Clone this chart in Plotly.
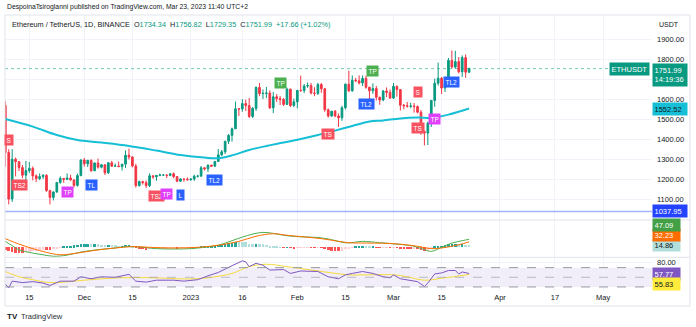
import pandas as pd
import plotly.graph_objects as go
from plotly.subplots import make_subplots

# ---------------- data ----------------
dates = pd.date_range("2022-11-08", "2023-03-23", freq="D")

opens = [1568, 1333, 1100, 1299, 1287, 1257, 1219, 1242, 1253, 1216, 1202, 1212, 1218, 1142, 1108, 1135, 1183, 1203, 1198, 1205, 1195, 1168, 1217,
         1295, 1276, 1293, 1241, 1280, 1259, 1271, 1231, 1281, 1264, 1265, 1262, 1274, 1319, 1310, 1265, 1167, 1187, 1182, 1167, 1216, 1211, 1218, 1220, 1220, 1218, 1226, 1212, 1189, 1200, 1199,
         1196, 1200, 1214, 1214, 1256, 1251, 1269, 1264, 1288, 1321, 1336, 1389, 1418, 1451, 1551, 1550, 1577, 1567, 1513, 1553, 1658, 1627, 1628, 1630, 1556, 1611, 1602, 1598, 1573, 1649, 1567,
         1586, 1643, 1642, 1665, 1667, 1630, 1628, 1672, 1651, 1546, 1515, 1539, 1515, 1506, 1556, 1674, 1641, 1694, 1691, 1680, 1703, 1659, 1641, 1652, 1609, 1595, 1640, 1633,
         1605, 1663, 1647, 1569, 1566, 1564, 1565, 1562, 1534, 1437, 1430, 1480, 1593, 1679, 1704, 1655, 1677, 1793, 1760, 1787, 1736, 1807, 1734.34]
highs = [1590, 1349, 1349, 1307, 1288, 1270, 1290, 1285, 1263, 1223, 1228, 1224, 1224, 1146, 1138, 1183, 1213, 1205, 1228, 1221, 1199, 1227, 1299,
         1305, 1296, 1298, 1283, 1302, 1275, 1272, 1284, 1291, 1278, 1287, 1275, 1343, 1352, 1313, 1276, 1192, 1191, 1193, 1228, 1217, 1220, 1227, 1223, 1222, 1229, 1233, 1214, 1204, 1201, 1208,
         1203, 1222, 1221, 1265, 1259, 1273, 1271, 1290, 1350, 1345, 1389, 1425, 1457, 1587, 1553, 1599, 1596, 1605, 1560, 1663, 1680, 1648, 1660, 1643, 1635, 1625, 1615, 1605, 1657, 1652, 1602,
         1645, 1717, 1675, 1682, 1680, 1659, 1681, 1680, 1655, 1553, 1541, 1545, 1528, 1566, 1678, 1742, 1718, 1706, 1718, 1718, 1717, 1661, 1678, 1665, 1611, 1645, 1658, 1648,
         1680, 1668, 1648, 1575, 1585, 1581, 1580, 1568, 1545, 1443, 1486, 1595, 1702, 1782, 1710, 1688, 1805, 1843, 1841, 1810, 1818, 1823, 1756.82]
lows = [1261, 1073, 1085, 1213, 1240, 1204, 1176, 1230, 1193, 1185, 1195, 1200, 1136, 1073, 1093, 1131, 1176, 1181, 1196, 1192, 1157, 1162, 1214,
        1262, 1260, 1236, 1240, 1251, 1253, 1220, 1225, 1261, 1263, 1260, 1242, 1255, 1297, 1258, 1157, 1162, 1172, 1155, 1160, 1201, 1191, 1214, 1216, 1205, 1214, 1204, 1184, 1186, 1186, 1193,
        1192, 1191, 1207, 1213, 1242, 1235, 1261, 1262, 1286, 1314, 1325, 1375, 1387, 1450, 1515, 1536, 1540, 1505, 1505, 1540, 1614, 1600, 1605, 1550, 1530, 1585, 1570, 1565, 1570, 1560, 1561,
        1553, 1636, 1630, 1656, 1623, 1614, 1620, 1631, 1536, 1507, 1511, 1509, 1461, 1491, 1548, 1635, 1636, 1685, 1673, 1665, 1651, 1593, 1626, 1593, 1571, 1589, 1610, 1600,
        1600, 1612, 1542, 1549, 1557, 1554, 1532, 1528, 1421, 1368, 1370, 1460, 1561, 1667, 1625, 1635, 1677, 1753, 1752, 1728, 1710, 1706, 1729.35]
closes = [1333, 1100, 1299, 1287, 1257, 1219, 1242, 1253, 1216, 1202, 1212, 1218, 1142, 1108, 1135, 1183, 1203, 1198, 1205, 1195, 1168, 1217, 1295,
          1276, 1293, 1241, 1280, 1259, 1271, 1231, 1281, 1264, 1265, 1262, 1274, 1319, 1310, 1265, 1167, 1187, 1182, 1167, 1216, 1211, 1218, 1220, 1220, 1218, 1226, 1212, 1189, 1200, 1199, 1196,
          1200, 1214, 1214, 1256, 1251, 1269, 1264, 1288, 1321, 1336, 1389, 1418, 1451, 1551, 1550, 1577, 1567, 1513, 1553, 1658, 1627, 1628, 1630, 1556, 1611, 1602, 1598, 1573, 1649, 1567, 1586,
          1643, 1642, 1665, 1667, 1630, 1628, 1672, 1651, 1546, 1515, 1539, 1515, 1506, 1556, 1674, 1641, 1694, 1691, 1680, 1703, 1659, 1641, 1652, 1609, 1595, 1640, 1633, 1605,
          1663, 1647, 1569, 1566, 1564, 1565, 1562, 1534, 1437, 1430, 1480, 1593, 1679, 1704, 1655, 1677, 1793, 1760, 1787, 1736, 1807, 1734, 1751.99]

# moving average (cyan) read at sample dates
ma_dates = ["2022-11-08", "2022-11-16", "2022-11-23", "2022-11-29", "2022-12-06", "2022-12-14", "2022-12-22", "2022-12-29",
            "2023-01-05", "2023-01-09", "2023-01-13", "2023-01-18", "2023-01-23", "2023-01-28", "2023-02-02", "2023-02-07",
            "2023-02-12", "2023-02-17", "2023-02-22", "2023-02-26", "2023-03-03", "2023-03-08", "2023-03-12", "2023-03-17", "2023-03-23"]
ma_vals = [1500, 1462, 1420, 1395, 1382, 1365, 1342, 1320, 1307, 1304, 1318, 1345, 1365, 1382, 1400, 1420,
           1442, 1465, 1487, 1493, 1503, 1507, 1506, 1522, 1552.52]

# MACD (green), signal (orange) read at sample dates
macd_dates = ["2022-11-08", "2022-11-10", "2022-11-12", "2022-11-16", "2022-11-19", "2022-11-22", "2022-11-26", "2022-11-30",
              "2022-12-05", "2022-12-10", "2022-12-14", "2022-12-18", "2022-12-22", "2022-12-27", "2023-01-01", "2023-01-05",
              "2023-01-09", "2023-01-13", "2023-01-16", "2023-01-19", "2023-01-22", "2023-01-25", "2023-01-29", "2023-02-02",
              "2023-02-07", "2023-02-11", "2023-02-14", "2023-02-16", "2023-02-20", "2023-02-25", "2023-03-02", "2023-03-07",
              "2023-03-10", "2023-03-12", "2023-03-15", "2023-03-18", "2023-03-21", "2023-03-23"]
macd_vals = [35, 10, -15, -34, -44, -53, -46, -28, -14, -4, 5, 0, -8, -10, -8, 0,
             12, 39, 60, 78, 88, 82, 68, 62, 58, 45, 30, 26, 35, 27, 19, 6, -14, -24, 0, 25, 39, 47.09]
sig_dates = ["2022-11-08", "2022-11-12", "2022-11-16", "2022-11-20", "2022-11-24", "2022-11-29", "2022-12-04", "2022-12-10",
             "2022-12-15", "2022-12-20", "2022-12-27", "2023-01-03", "2023-01-09", "2023-01-15", "2023-01-20", "2023-01-25",
             "2023-01-29", "2023-02-03", "2023-02-08", "2023-02-13", "2023-02-16", "2023-02-21", "2023-02-26", "2023-03-03",
             "2023-03-08", "2023-03-12", "2023-03-15", "2023-03-20", "2023-03-23"]
sig_vals = [51, 19, -8, -30, -44, -34, -18, -4, 4, 0, -4, 0, 12, 35, 65, 80, 71, 61, 51, 35, 27, 25, 24, 18, 6, -8, -4, 15, 32.23]

# MACD histogram, one value per day
hist_vals = [-14, -24, -28, -32, -34, -35, -30, -26, -22, -19, -16, -13, -14, -16, -10, -6, -2, 2, 5, 9, 11, 14, 18,
             19, 20, 19, 19, 18, 16, 14, 14, 13, 12, 10, 10, 13, 14, 10, -2, -8, -11, -13, -11, -9, -8, -7, -6, -5, -4, -4, -5, -4, -3, -3,
             -2, -1, 1, 4, 5, 7, 7, 9, 13, 15, 19, 23, 27, 34, 33, 32, 29, 22, 19, 22, 20, 17, 14, 8, 6, 3, 1, -2, 1, -4, -5,
             -3, -2, -1, -1, -3, -4, -2, -4, -12, -18, -20, -22, -24, -20, -10, -6, -1, 2, 3, 5, 4, 2, 2, -1, -3, -2, -2, -3,
             -1, -2, -6, -8, -9, -10, -10, -12, -18, -22, -20, -10, 2, 9, 10, 11, 17, 19, 21, 19, 20, 16, 14.86]

# RSI (purple) and its MA (yellow)
rsi_dates = ["2022-11-08", "2022-11-09", "2022-11-10", "2022-11-13", "2022-11-16", "2022-11-19", "2022-11-21", "2022-11-24",
             "2022-11-28", "2022-11-30", "2022-12-03", "2022-12-06", "2022-12-10", "2022-12-14", "2022-12-16", "2022-12-19",
             "2022-12-22", "2022-12-27", "2022-12-30", "2023-01-03", "2023-01-06", "2023-01-09", "2023-01-13", "2023-01-16",
             "2023-01-17", "2023-01-18", "2023-01-20", "2023-01-22", "2023-01-24", "2023-01-28", "2023-01-30", "2023-02-02",
             "2023-02-07", "2023-02-10", "2023-02-13", "2023-02-15", "2023-02-17", "2023-02-20", "2023-02-23", "2023-02-26",
             "2023-02-28", "2023-03-01", "2023-03-03", "2023-03-05", "2023-03-08", "2023-03-10", "2023-03-11", "2023-03-13",
             "2023-03-15", "2023-03-17", "2023-03-19", "2023-03-20", "2023-03-21", "2023-03-23"]
rsi_vals = [36, 28, 42, 39, 41, 38, 33, 42, 42, 51, 47, 51, 50, 56, 42, 40, 44, 44, 42, 45, 53, 60, 74, 84,
            82, 72, 79, 75, 65, 66, 58, 63, 62, 51, 47, 55, 58, 62, 58, 51, 49, 55, 47, 45, 41, 31, 38, 57,
            59, 64, 64, 57, 61, 57.77]
rsima_dates = ["2022-11-08", "2022-11-12", "2022-11-16", "2022-11-21", "2022-12-01", "2022-12-11", "2022-12-21", "2022-12-31",
               "2023-01-06", "2023-01-13", "2023-01-18", "2023-01-23", "2023-01-29", "2023-02-07", "2023-02-16", "2023-02-20",
               "2023-03-01", "2023-03-05", "2023-03-10", "2023-03-15", "2023-03-23"]
rsima_vals = [62, 51, 45, 39, 44, 49, 49, 46.5, 49, 58, 72, 77, 72, 63, 55, 55, 55, 51, 44, 48, 55.83]

# strategy signal labels
sig_text = ["S", "TS2", "TP", "TL", "TS2", "TP", "L", "TL2", "TP", "TS", "TL2", "TP", "S", "TS", "TP", "TL2"]
sig_x = ["2022-11-09", "2022-11-12", "2022-11-26", "2022-12-03", "2022-12-22", "2022-12-25", "2022-12-29", "2023-01-08",
         "2023-01-27", "2023-02-10", "2023-02-21", "2023-02-23", "2023-03-08", "2023-03-08", "2023-03-13", "2023-03-18"]
sig_y = [1395, 1170, 1135, 1170, 1115, 1125, 1120, 1195, 1680, 1425, 1575, 1740, 1633, 1455, 1500, 1685]
sig_kind = ["red", "red", "mag", "blue", "red", "mag", "blue", "blue", "green", "red", "blue", "green", "red", "red", "mag", "blue"]

tick_dates = ["2022-11-15", "2022-12-01", "2022-12-15", "2023-01-01", "2023-01-16", "2023-02-01", "2023-02-15",
              "2023-03-01", "2023-03-15", "2023-04-01", "2023-04-17", "2023-05-01"]
tick_text = ["15", "Dec", "15", "2023", "16", "Feb", "15", "Mar", "15", "Apr", "17", "May"]
price_ticks = [1100, 1200, 1300, 1400, 1500, 1600, 1700, 1800, 1900]

last_price = 1751.99
ma_last = 1552.52
hline_price = 1037.95

# ---------------- layout constants ----------------
W, H = 696, 327
ML, MR, MT, MB = 5, 44, 15, 36
PW, PH = W - ML - MR, H - MT - MB
def px_x(x): return (x - ML) / PW
def px_y(y): return (H - MB - y) / PH

UP, DN = "#089981", "#f23645"
GRID = "#f0f3fa"
TXT = "#131722"
FONT = "Liberation Sans"
sig_colors = {"red": "#f7525f", "mag": "#e040fb", "blue": "#2962ff", "green": "#4caf50"}

fig = make_subplots(rows=3, cols=1, shared_xaxes=True, vertical_spacing=0,
                    row_heights=[205, 37.3, 33.7])

fig.add_trace(go.Candlestick(
    x=dates, open=opens, high=highs, low=lows, close=closes,
    increasing=dict(line=dict(color=UP, width=1), fillcolor=UP),
    decreasing=dict(line=dict(color=DN, width=1), fillcolor=DN),
    whiskerwidth=0, showlegend=False), row=1, col=1)
fig.add_trace(go.Scatter(x=pd.to_datetime(ma_dates), y=ma_vals, mode="lines",
                         line=dict(color="#16bfd6", width=2, shape="spline"), showlegend=False), row=1, col=1)

# histogram colours
hcol = []
prev = 0
for h in hist_vals:
    if h >= 0:
        hcol.append("#26a69a" if h >= prev else "#b2dfdb")
    else:
        hcol.append("#ff5252" if h < prev else "#ffcdd2")
    prev = h
fig.add_trace(go.Bar(x=dates, y=hist_vals, marker=dict(color=hcol, line=dict(width=0)),
                     width=86400000 * 0.75, showlegend=False), row=2, col=1)
fig.add_trace(go.Scatter(x=pd.to_datetime(macd_dates), y=macd_vals, mode="lines",
                         line=dict(color="#4caf50", width=1, shape="spline"), showlegend=False), row=2, col=1)
fig.add_trace(go.Scatter(x=pd.to_datetime(sig_dates), y=sig_vals, mode="lines",
                         line=dict(color="#ff6d00", width=1, shape="spline"), showlegend=False), row=2, col=1)

fig.add_trace(go.Scatter(x=pd.to_datetime(rsima_dates), y=rsima_vals, mode="lines",
                         line=dict(color="#f5d93a", width=1, shape="spline"), showlegend=False), row=3, col=1)
fig.add_trace(go.Scatter(x=pd.to_datetime(rsi_dates), y=rsi_vals, mode="lines",
                         line=dict(color="#7e57c2", width=1), showlegend=False), row=3, col=1)

xr = ["2022-11-07 22:00", "2023-05-15 06:00"]
fig.update_xaxes(range=xr, tickvals=tick_dates, ticktext=tick_text, showgrid=True, gridcolor=GRID,
                 gridwidth=1, zeroline=False, showline=False, ticks="", rangeslider_visible=False,
                 tickfont=dict(size=7.5, color=TXT, family=FONT))
fig.update_xaxes(showticklabels=False, row=1, col=1)
fig.update_xaxes(showticklabels=False, row=2, col=1)
fig.update_xaxes(showticklabels=True, row=3, col=1)

fig.update_yaxes(range=[995, 2020], side="right", tickvals=price_ticks,
                 ticktext=[f"{v:.2f}" if v != 1700 else "" for v in price_ticks],
                 showgrid=True, gridcolor=GRID, zeroline=False, ticks="", ticklabelstandoff=4,
                 tickfont=dict(size=7.5, color=TXT, family=FONT), row=1, col=1)
fig.update_yaxes(range=[-59, 161], showticklabels=False, showgrid=False, zeroline=False, row=2, col=1)
fig.update_yaxes(range=[21.6, 91.4], side="right", tickvals=[80], ticktext=["80.00"], showgrid=True,
                 gridcolor=GRID, zeroline=False, ticks="", ticklabelstandoff=4,
                 tickfont=dict(size=7.5, color=TXT, family=FONT), row=3, col=1)

shapes = []
# RSI band and levels
shapes.append(dict(type="rect", xref="paper", x0=0, x1=1, yref="y3", y0=30, y1=70,
                   fillcolor="rgba(126,87,194,0.1)", line=dict(width=0), layer="below"))
for lvl, c in [(70, "#9598a1"), (50, "rgba(149,152,161,0.6)"), (30, "#9598a1")]:
    shapes.append(dict(type="line", xref="paper", x0=0, x1=1, yref="y3", y0=lvl, y1=lvl,
                       line=dict(color=c, width=1, dash="dash")))
# price lines
shapes.append(dict(type="line", xref="paper", x0=0, x1=px_x(617), yref="y", y0=last_price, y1=last_price,
                   line=dict(color="rgba(8,153,129,0.55)", width=1, dash="dot")))
shapes.append(dict(type="line", xref="paper", x0=0, x1=1, yref="y", y0=hline_price, y1=hline_price,
                   line=dict(color="rgba(60,90,255,0.45)", width=1.5)))
# frame and pane separators
shapes.append(dict(type="rect", xref="paper", yref="paper", x0=0, x1=px_x(690), y0=px_y(306), y1=1,
                   line=dict(color="#e0e3eb", width=1)))
for yy in (220, 257.3):
    shapes.append(dict(type="line", xref="paper", yref="paper", x0=0, x1=px_x(690), y0=px_y(yy), y1=px_y(yy),
                       line=dict(color="#e0e3eb", width=1)))

ann = []
def tag(text, y, yref, bg, fc="white", yshift=0, width=None, xanchor="left", x=1.0, xshift=0, yanchor="middle"):
    d = dict(text=text, x=x, xref="paper", y=y, yref=yref, xanchor=xanchor, yanchor=yanchor,
             showarrow=False, bgcolor=bg, borderpad=1.5, yshift=yshift, xshift=xshift, align="left",
             font=dict(size=7.5, color=fc, family=FONT))
    if width:
        d["width"] = width
    return d

ann.append(tag(f"{last_price:.2f}<br>14:19:36", last_price, "y", UP, yshift=6, width=31, yanchor="top"))
ann.append(tag("ETHUSDT", last_price, "y", UP, xanchor="right", xshift=-2))
ann.append(tag(f"{ma_last:.2f}", ma_last, "y", "#16bfd6", fc=TXT, width=31))
ann.append(tag(f"{hline_price:.2f}", hline_price, "y", "#2443ff", width=31))
ann.append(tag(f"{hist_vals[-1]:.2f}", hist_vals[-1], "y2", "#b2dfdb", fc=TXT, width=24))
ann.append(tag(f"{sig_vals[-1]:.2f}", hist_vals[-1], "y2", "#ff6d00", yshift=9.7, width=24))
ann.append(tag(f"{macd_vals[-1]:.2f}", hist_vals[-1], "y2", "#43a047", yshift=19.4, width=24))
ann.append(tag(f"{rsi_vals[-1]:.2f}", rsi_vals[-1], "y3", "#7e57c2", width=24))
ann.append(tag(f"{rsima_vals[-1]:.2f}", rsi_vals[-1], "y3", "#ffeb3b", fc=TXT, yshift=-10, width=24))

for t, xd, yv, k in zip(sig_text, sig_x, sig_y, sig_kind):
    ann.append(dict(text=t, x=xd, xref="x", y=yv, yref="y", showarrow=False, bgcolor=sig_colors[k],
                    borderpad=1.5, font=dict(size=6.5, color="white", family=FONT)))

G = "#089981"
legend = ("Ethereum / TetherUS, 1D, BINANCE&nbsp;&nbsp;"
          f"O<span style='color:{G}'>1734.34</span>&nbsp;&nbsp;H<span style='color:{G}'>1756.82</span>&nbsp;&nbsp;"
          f"L<span style='color:{G}'>1729.35</span>&nbsp;&nbsp;C<span style='color:{G}'>1751.99</span>&nbsp;&nbsp;"
          f"<span style='color:{G}'>+17.66 (+1.02%)</span>")
ann.append(dict(text=legend, x=px_x(10), y=px_y(24), xref="paper", yref="paper", xanchor="left", yanchor="middle",
                showarrow=False, font=dict(size=7.3, color=TXT, family=FONT)))
ann.append(dict(text="DespoinaTsiroglanni published on TradingView.com, Mar 23, 2023 11:40 UTC+2",
                x=px_x(5), y=px_y(7), xref="paper", yref="paper", xanchor="left", yanchor="middle",
                showarrow=False, font=dict(size=6.8, color=TXT, family=FONT)))
ann.append(dict(text="USDT", x=px_x(657), y=px_y(24), xref="paper", yref="paper", xanchor="left", yanchor="middle",
                showarrow=False, font=dict(size=7, color=TXT, family=FONT)))
ann.append(dict(text="<b>TV</b>", x=px_x(5), y=px_y(316), xref="paper", yref="paper", xanchor="left", yanchor="middle",
                showarrow=False, font=dict(size=8, color=TXT, family=FONT)))
ann.append(dict(text="TradingView", x=px_x(19), y=px_y(316), xref="paper", yref="paper", xanchor="left",
                yanchor="middle", showarrow=False, font=dict(size=7.5, color="#2a2e39", family=FONT)))

fig.update_layout(width=W, height=H, margin=dict(l=ML, r=MR, t=MT, b=MB, pad=0), autosize=False,
                  paper_bgcolor="white", plot_bgcolor="white", showlegend=False, bargap=0,
                  shapes=shapes, annotations=ann, font=dict(family=FONT, color=TXT),
                  xaxis_rangeslider_visible=False)

fig.write_html("out.html")
